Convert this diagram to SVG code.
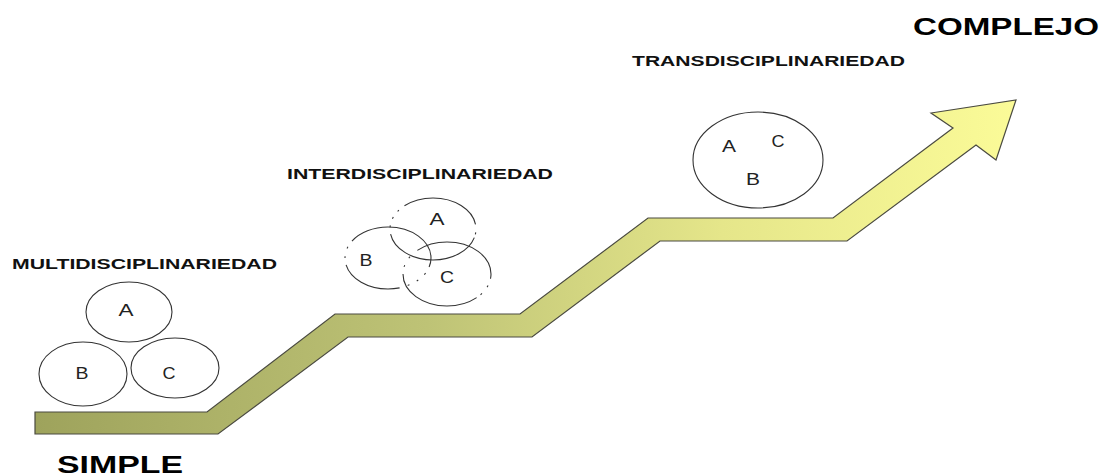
<svg xmlns="http://www.w3.org/2000/svg" width="1104" height="476" viewBox="0 0 1104 476">
  <defs>
    <linearGradient id="stairGrad" gradientUnits="userSpaceOnUse" x1="35" y1="0" x2="1016" y2="0">
      <stop offset="0" stop-color="#9ea35c"/>
      <stop offset="0.4" stop-color="#bec376"/>
      <stop offset="0.7" stop-color="#e5e68a"/>
      <stop offset="1" stop-color="#fbfb98"/>
    </linearGradient>
    <style>
      .circ { fill: none; stroke: #333; stroke-width: 1.1; }
      .title { font-family: "Liberation Sans", Arial, sans-serif; font-weight: bold; fill: #111; }
      .lbl { font-family: "Liberation Sans", Arial, sans-serif; font-size: 16px; fill: #222; text-anchor: middle; }
      .big { font-family: "Liberation Sans", Arial, sans-serif; font-weight: bold; fill: #000; }
    </style>
  </defs>
  <rect width="1104" height="476" fill="#ffffff"/>

  <g id="connectors">
    <polygon points="35,412 207,412 335,314 520,314 648,218 833,218 953,128 931,113 1016,100 996,160 976,145 847,241 660,241 532,337 348,337 218,434 35,434" fill="url(#stairGrad)" stroke="#4a4a40" stroke-width="1.2" stroke-linejoin="miter"/>
  </g>

  <g id="simple">
    <text class="big" x="57" y="473" font-size="23" textLength="126" lengthAdjust="spacingAndGlyphs">SIMPLE</text>
  </g>
  <g id="complejo">
    <text class="big" x="913" y="35" font-size="24" textLength="186" lengthAdjust="spacingAndGlyphs">COMPLEJO</text>
  </g>

  <g id="multidisciplinariedad">
    <text class="title" x="12" y="269" font-size="15" textLength="265" lengthAdjust="spacingAndGlyphs">MULTIDISCIPLINARIEDAD</text>
    <ellipse class="circ" cx="129" cy="312" rx="43" ry="30"/>
    <ellipse class="circ" cx="83" cy="374" rx="44" ry="32"/>
    <ellipse class="circ" cx="175" cy="368" rx="44" ry="30"/>
    <text class="lbl" x="126" y="316" textLength="15" lengthAdjust="spacingAndGlyphs">A</text>
    <text class="lbl" x="82" y="379" textLength="13" lengthAdjust="spacingAndGlyphs">B</text>
    <text class="lbl" x="169" y="379" textLength="13" lengthAdjust="spacingAndGlyphs">C</text>
  </g>

  <g id="interdisciplinariedad">
    <text class="title" x="287" y="179" font-size="15" textLength="266" lengthAdjust="spacingAndGlyphs">INTERDISCIPLINARIEDAD</text>
    <ellipse class="circ" cx="433" cy="229" rx="43" ry="31" pathLength="100" stroke-dasharray="0 1.5 0.8 1.5 44 3 0.8 3 0.8 3 0.8 3 35.8 2"/>
    <ellipse class="circ" cx="388" cy="258" rx="43" ry="31" pathLength="100" stroke-dasharray="4 3 0.8 3.5 0.8 3.5 0.8 3.6 27 3 0.8 3.4 0.8 3 42 0"/>
    <ellipse class="circ" cx="447" cy="274" rx="44" ry="32" pathLength="100" stroke-dasharray="2 3 0.8 3.4 0.8 2 38 3 0.8 3.4 0.8 4 38 0"/>
    <text class="lbl" x="437" y="225" textLength="15" lengthAdjust="spacingAndGlyphs">A</text>
    <text class="lbl" x="366" y="266" textLength="13" lengthAdjust="spacingAndGlyphs">B</text>
    <text class="lbl" x="447" y="283" textLength="14" lengthAdjust="spacingAndGlyphs">C</text>
  </g>

  <g id="transdisciplinariedad">
    <text class="title" x="632" y="66" font-size="15" textLength="273" lengthAdjust="spacingAndGlyphs">TRANSDISCIPLINARIEDAD</text>
    <ellipse class="circ" cx="758" cy="160" rx="65" ry="48"/>
    <text class="lbl" x="729" y="152" font-size="17" textLength="14" lengthAdjust="spacingAndGlyphs">A</text>
    <text class="lbl" x="778" y="147" font-size="17" textLength="13" lengthAdjust="spacingAndGlyphs">C</text>
    <text class="lbl" x="753" y="185" font-size="17" textLength="14" lengthAdjust="spacingAndGlyphs">B</text>
  </g>
</svg>
